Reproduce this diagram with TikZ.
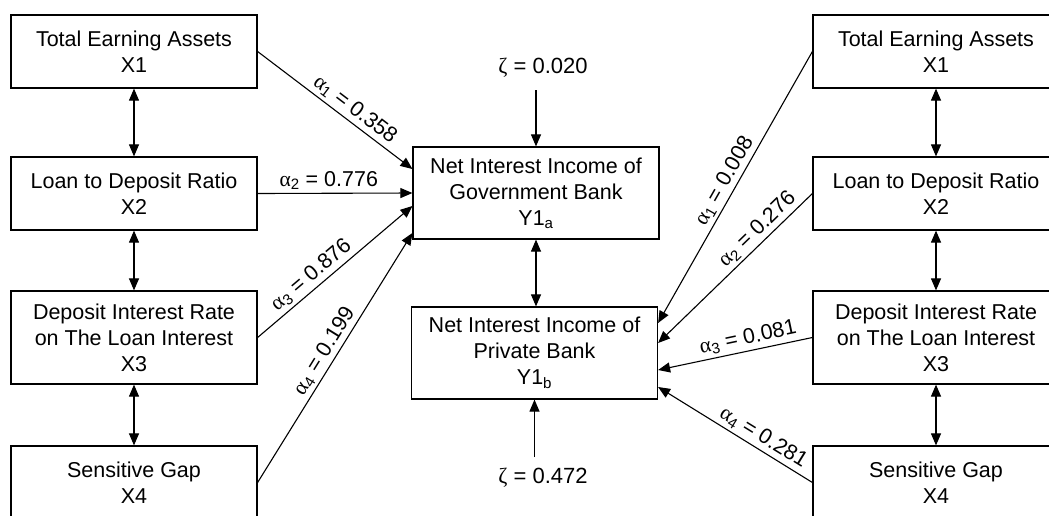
\documentclass[tikz,border=0pt]{standalone}
\usepackage{fontspec}
\setmainfont{Liberation Sans}
\newfontfamily\greekfont{Liberation Serif}
\usetikzlibrary{calc,arrows.meta}

\tikzset{
    varbox/.style={draw, line width=1.2pt, minimum width=246pt, minimum height=73pt,
        align=center, inner sep=2pt, font=\fontsize{21.5}{26}\selectfont},
    pathline/.style={line width=1.1pt, -{Triangle[length=12pt,width=10pt]}},
    corrline/.style={line width=1.1pt, {Triangle[length=12pt,width=10pt]}-{Triangle[length=12pt,width=10pt]}},
    coeflabel/.style={sloped, above, inner sep=3pt, font=\fontsize{21.5}{24}\selectfont},
    zetalabel/.style={anchor=base, inner sep=0pt, font=\fontsize{22}{24}\selectfont},
}
\newcommand\coef[2]{{\greekfont α}\textsubscript{#1} = #2}
\newcommand\zval[1]{{\greekfont ζ} = #1}

\begin{document}
\begin{tikzpicture}[x=1pt, y=-1pt]
        \useasboundingbox (0, 0) rectangle (1049, 515);
        \clip (0, 0) rectangle (1049, 515);

        % left side: government bank
        \node [varbox] (x1l) at (134, 51.5) {Total Earning Assets\\X1};
        \node [varbox] (x2l) at (134, 193.5) {Loan to Deposit Ratio\\X2};
        \node [varbox, minimum height=93pt] (x3l) at (134, 337.5) {Deposit Interest Rate\\on The Loan Interest\\X3};
        \node [varbox] (x4l) at (134, 482.5) {Sensitive Gap\\X4};

        % right side: private bank
        \node [varbox] (x1r) at (936, 51.5) {Total Earning Assets\\X1};
        \node [varbox] (x2r) at (936, 193.5) {Loan to Deposit Ratio\\X2};
        \node [varbox, minimum height=93pt] (x3r) at (936, 337.5) {Deposit Interest Rate\\on The Loan Interest\\X3};
        \node [varbox] (x4r) at (936, 482.5) {Sensitive Gap\\X4};

        % dependent variables
        \node [varbox, minimum height=92pt] (govbank) at (536, 193) {Net Interest Income of\\Government Bank\\Y1\textsubscript{a}};
        \node [varbox, minimum height=92pt] (privbank) at (534.5, 353) {Net Interest Income of\\Private Bank\\Y1\textsubscript{b}};

        \node [zetalabel] (zetagov) at (543, 73) {\zval{0.020}};
        \node [zetalabel] (zetapriv) at (543, 483) {\zval{0.472}};

        \draw [corrline] (x1l) -- (x2l);
        \draw [corrline] (x2l) -- (x3l);
        \draw [corrline] (x3l) -- (x4l);
        \draw [corrline] (x1r) -- (x2r);
        \draw [corrline] (x2r) -- (x3r);
        \draw [corrline] (x3r) -- (x4r);
        \draw [corrline] (govbank.south) -- (govbank.south |- privbank.north);

        \draw [pathline] ($(zetagov.base -| govbank.north)+(0, 17)$) -- (govbank.north);
        \draw [pathline] ($(zetapriv.base -| privbank.south)+(0, -26)$) -- (privbank.south);

        \draw [pathline] (x1l.east) -- node [coeflabel, pos=0.58] {\coef{1}{0.358}} ($(govbank.west)+(0, -24)$);
        \draw [pathline] (x2l.east) -- node [coeflabel, pos=0.46] {\coef{2}{0.776}} (govbank.west);
        \draw [pathline] (x3l.east) -- node [coeflabel, pos=0.4] {\coef{3}{0.876}} ($(govbank.west)+(0, 13)$);
        \draw [pathline] (x4l.east) -- node [coeflabel, pos=0.5] {\coef{4}{0.199}} ($(govbank.west)+(0, 40)$);

        \draw [pathline] (x1r.west) -- node [coeflabel, pos=0.5] {\coef{1}{0.008}} ($(privbank.east)+(0, -30)$);
        \draw [pathline] (x2r.west) -- node [coeflabel, pos=0.3] {\coef{2}{0.276}} ($(privbank.east)+(0, -10)$);
        \draw [pathline] (x3r.west) -- node [coeflabel, pos=0.4] {\coef{3}{0.081}} ($(privbank.east)+(0, 17)$);
        \draw [pathline] (x4r.west) -- node [coeflabel, pos=0.36] {\coef{4}{0.281}} ($(privbank.east)+(0, 34)$);
    \end{tikzpicture}
\end{document}
